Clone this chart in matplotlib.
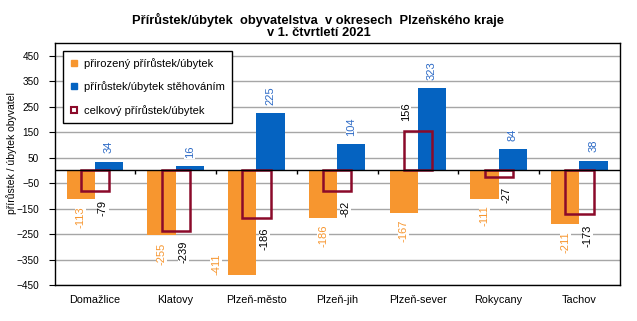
import numpy as np
import matplotlib
matplotlib.use("Agg")
import matplotlib.pyplot as plt
from matplotlib.lines import Line2D

plt.rcParams['font.family'] = ['Liberation Sans', 'DejaVu Sans']

districts = ["Domažlice", "Klatovy", "Plzeň-město", "Plzeň-jih",
             "Plzeň-sever", "Rokycany", "Tachov"]
natural = [-113, -255, -411, -186, -167, -111, -211]
migration = [34, 16, 225, 104, 323, 84, 38]
total = [-79, -239, -186, -82, 156, -27, -173]

c_orange = "#F7962F"
c_blue = "#0563C1"
c_blue_txt = "#2E6BC6"
c_red = "#8B0A2A"

x = np.arange(len(districts))
w = 0.35

fig = plt.figure(figsize=(6.37, 3.21), dpi=100)
ax = fig.add_axes([0.0856, 0.1121, 0.8874, 0.7539])

ax.set_axisbelow(True)
ax.yaxis.grid(True, color="#A6A6A6", linewidth=1)
ax.bar(x - w / 2, natural, w, color=c_orange, zorder=2)
ax.bar(x + w / 2, migration, w, color=c_blue, zorder=2)
ax.bar(x, total, w, facecolor="none", edgecolor=c_red, linewidth=1.8, zorder=3)

ax.axhline(0, color="black", linewidth=1, zorder=4)
bounds = np.arange(len(districts) + 1) - 0.5
ax.vlines(bounds[1:-1], -14, 0, color="black", linewidth=1, zorder=4)

ax.set_xlim(-0.5, len(districts) - 0.5)
ax.set_ylim(-450, 500)
ax.set_yticks(np.arange(-450, 451, 100))
ax.set_xticks(x)
ax.set_xticklabels(districts)
ax.tick_params(axis="x", length=0, pad=7, labelsize=7.8)
ax.tick_params(axis="y", length=4, pad=7, labelsize=7.2, direction="out")
for s in ax.spines.values():
    s.set_color("black")
    s.set_linewidth(1)

fs = 8
box = dict(facecolor="white", edgecolor="none", pad=0.5)
for i in range(len(districts)):
    v = natural[i]
    if v < -380:
        ax.annotate(str(v), (i - 0.5, v), xytext=(0, 0), textcoords="offset points",
                    rotation=90, ha="center", va="bottom", fontsize=fs,
                    color=c_orange, bbox=box, zorder=5)
    else:
        ax.annotate(str(v), (i - w / 2, v), xytext=(0, -5), textcoords="offset points",
                    rotation=90, ha="center", va="top", fontsize=fs,
                    color=c_orange, bbox=box, zorder=5)
    ax.annotate(str(migration[i]), (i + w / 2, migration[i]), xytext=(0, 6),
                textcoords="offset points", rotation=90, ha="center", va="bottom",
                fontsize=fs, color=c_blue_txt, bbox=box, zorder=5)
    t = total[i]
    if t < 0:
        ax.annotate(str(t), (i + 0.1, t), xytext=(0, -7), textcoords="offset points",
                    rotation=90, ha="center", va="top", fontsize=fs,
                    color="black", bbox=box, zorder=5)
    else:
        ax.annotate(str(t), (i - 0.15, t), xytext=(0, 7), textcoords="offset points",
                    rotation=90, ha="center", va="bottom", fontsize=fs,
                    color="black", bbox=box, zorder=5)

handles = [
    Line2D([], [], linestyle="none", marker="s", markersize=4.5,
           markerfacecolor=c_orange, markeredgecolor=c_orange),
    Line2D([], [], linestyle="none", marker="s", markersize=4.5,
           markerfacecolor=c_blue, markeredgecolor=c_blue),
    Line2D([], [], linestyle="none", marker="s", markersize=4.5,
           markerfacecolor="white", markeredgecolor=c_red, markeredgewidth=1.5),
]
labels = ["přirozený přírůstek/úbytek", "přírůstek/úbytek stěhováním",
          "celkový přírůstek/úbytek"]
leg = fig.legend(handles, labels, loc="upper left", bbox_to_anchor=(63 / 637, 1 - 51 / 321),
                 fontsize=8, frameon=True, fancybox=False, framealpha=1,
                 edgecolor="black", labelspacing=1.15, handlelength=0.8,
                 handletextpad=0.5, borderpad=0.6, borderaxespad=0)
leg.get_frame().set_linewidth(1)

fig.text(0.5, 1 - 20 / 321, "Přírůstek/úbytek  obyvatelstva  v okresech  Plzeňského kraje",
         ha="center", va="center", fontsize=9.3, fontweight="bold")
fig.text(0.5, 1 - 33 / 321, "v 1. čtvrtletí 2021",
         ha="center", va="center", fontsize=9.3, fontweight="bold")
fig.text(12 / 637, 1 - 153 / 321, "přírůstek / úbytek obyvatel", rotation=90,
         ha="center", va="center", fontsize=7.5)

fig.savefig("out.png", dpi=100)
